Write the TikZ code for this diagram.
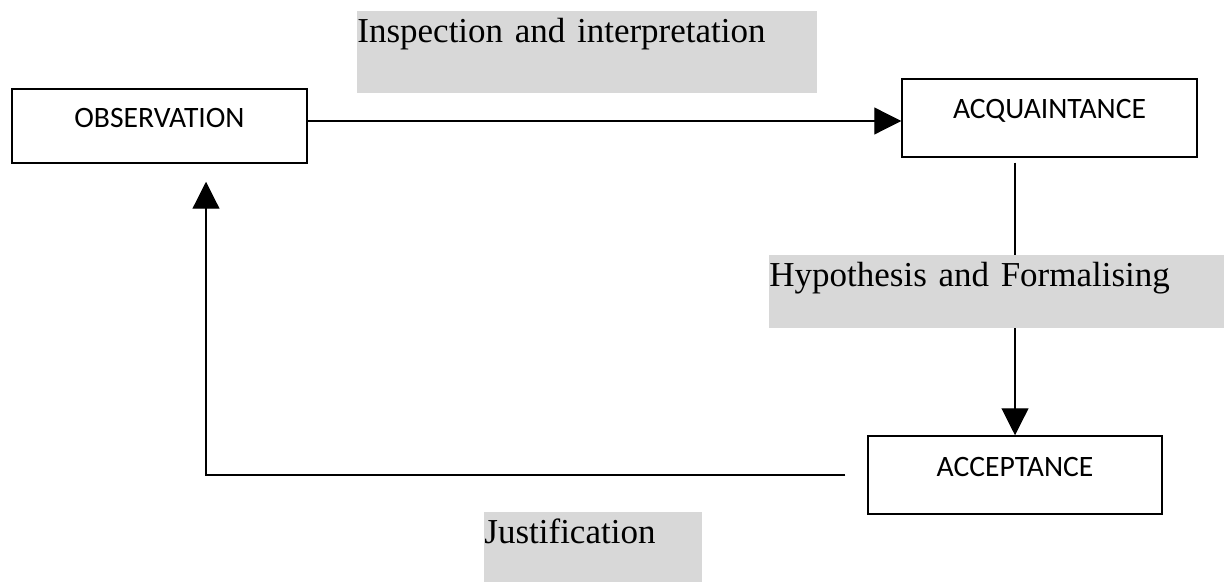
\documentclass[tikz,border=0pt]{standalone}
\usepackage{fontspec}
\setmainfont{Liberation Serif}
\newfontfamily\boxfont{Carlito}
\usetikzlibrary{arrows.meta}
\definecolor{bandgray}{HTML}{D8D8D8}
\begin{document}
\begin{tikzpicture}[x=0.5pt,y=-0.5pt,
  stage/.style={draw,line width=0.75pt,inner sep=0pt,minimum width=147.5pt,
    font=\boxfont\fontsize{14.8}{17}\selectfont,text height=9pt,text depth=8pt},
  band/.style={fill=bandgray,inner sep=0pt,anchor=north west,align=left,
    font=\fontsize{17.5}{20}\selectfont,text height=15.5pt},
  flow/.style={line width=0.6pt,-{Triangle[length=13.5pt,width=13.5pt]}}]
  \useasboundingbox (0,0) rectangle (1224,582);
  \node[stage,minimum height=37pt,text depth=7pt] (obs) at (159.5,126) {OBSERVATION};
  \node[stage,minimum height=39pt] (acq) at (1049.5,118) {ACQUAINTANCE};
  \node[stage,minimum height=39pt,minimum width=147pt] (acc) at (1015,475) {ACCEPTANCE};
  \coordinate (turn) at (206,477);
  \draw[flow] ([yshift=2.5pt]obs.east) -- ([yshift=2.5pt]obs.east -| acq.west);
  \draw[flow,shorten <=2.5pt] (acq.south -| acc.north) -- (acc.north);
  \draw[flow,shorten <=11pt,shorten >=9pt] (acc.west) -- (acc.west -| turn) -- (turn |- obs.south);
  \node[band,text width=230pt,text depth=25.5pt] (insp) at (357,11) {Inspection and interpretation};
  \node[band,text width=227.5pt,text depth=21pt] (hypo) at (769,255) {Hypothesis and Formalising};
  \node[band,text width=109pt,text depth=19.5pt] (just) at (484,512) {Justification};
\end{tikzpicture}
\end{document}
